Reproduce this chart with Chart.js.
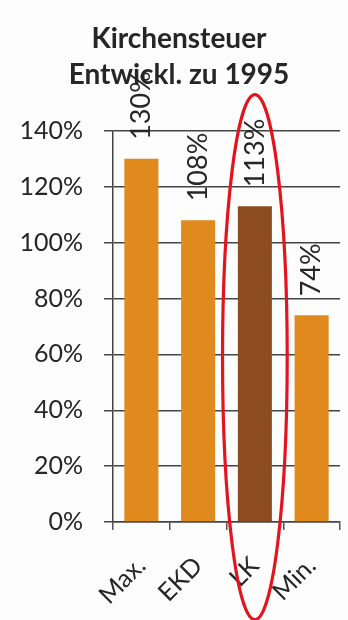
<!DOCTYPE html>
<html>
<head>
<meta charset="utf-8">
<script src="https://cdn.jsdelivr.net/npm/chart.js@4/dist/chart.umd.min.js"></script>
<style>
  html, body { margin: 0; padding: 0; background: #fdfdfd; }
  #wrap { width: 348px; height: 620px; position: relative; }
</style>
</head>
<body>
<div id="wrap"><canvas id="c"></canvas></div>
<script>
// Church tax development relative to 1995
const categories = ['Max.', 'EKD', 'LK', 'Min.'];
const values = [130, 108, 113, 74];
const barColors = ['#E0891C', '#E0891C', '#8D4C20', '#E0891C'];
const titleLines = ['Kirchensteuer', 'Entwickl. zu 1995'];
const yMin = 0, yMax = 140, yStep = 20;
const highlightIndex = 2;            // LK is circled
const highlightRange = [153, -35];   // vertical extent of the ring, in axis units

const FONT = 'Lato, "Open Sans", sans-serif';
const INK = '#262626';

// rotated value labels above each bar
const valueLabels = {
  id: 'valueLabels',
  afterDatasetsDraw(chart) {
    const ctx = chart.ctx;
    const meta = chart.getDatasetMeta(0);
    ctx.save();
    ctx.fillStyle = INK;
    ctx.font = '27px ' + FONT;
    ctx.textAlign = 'left';
    ctx.textBaseline = 'middle';
    meta.data.forEach((bar, i) => {
      ctx.save();
      ctx.translate(bar.x, bar.y - 19);
      ctx.rotate(-Math.PI / 2);
      ctx.fillText(values[i] + '%', 0, 0);
      ctx.restore();
    });
    ctx.restore();
  }
};

// red hand-drawn ring around the highlighted column
const ring = {
  id: 'ring',
  afterDraw(chart) {
    const ctx = chart.ctx;
    const xs = chart.scales.x, ys = chart.scales.y;
    const cx = xs.getPixelForValue(highlightIndex);
    const top = ys.getPixelForValue(highlightRange[0]);
    const bottom = ys.getPixelForValue(highlightRange[1]);
    const rx = xs.width / categories.length * 0.57;
    ctx.save();
    ctx.strokeStyle = '#E2141C';
    ctx.lineWidth = 3.2;
    ctx.beginPath();
    ctx.ellipse(cx, (top + bottom) / 2, rx, (bottom - top) / 2, 0, 0, Math.PI * 2);
    ctx.stroke();
    ctx.restore();
  }
};

new Chart(document.getElementById('c'), {
  type: 'bar',
  data: {
    labels: categories,
    datasets: [{
      data: values,
      backgroundColor: barColors,
      borderWidth: 0,
      barPercentage: 0.6,
      categoryPercentage: 1.0
    }]
  },
  options: {
    responsive: true,
    maintainAspectRatio: false,
    animation: false,
    layout: { padding: { left: 18, right: 8, top: 0, bottom: 0 } },
    plugins: {
      legend: { display: false },
      tooltip: { enabled: false },
      title: {
        display: true,
        text: titleLines,
        color: INK,
        font: { family: FONT, size: 28, weight: 'bold', lineHeight: 1.32 },
        padding: { top: 20, bottom: 37 }
      }
    },
    scales: {
      x: {
        afterFit(scale) {
          scale.paddingLeft = 0;
          scale.paddingRight = 0;
          scale.height = 98;
        },
        grid: {
          drawOnChartArea: false,
          drawTicks: true,
          tickLength: 8,
          color: '#555',
          lineWidth: 1.5,
          offset: true
        },
        border: { display: true, color: '#444', width: 1.5 },
        ticks: {
          color: INK,
          font: { family: FONT, size: 25 },
          minRotation: 45,
          maxRotation: 45,
          padding: 21
        }
      },
      y: {
        min: yMin,
        max: yMax,
        afterFit(scale) { scale.width = 95; },
        grid: {
          color: '#444',
          lineWidth: 1.5,
          tickLength: 9,
          drawTicks: true
        },
        border: { display: true, color: '#444', width: 1.5 },
        ticks: {
          stepSize: yStep,
          color: INK,
          font: { family: FONT, size: 25 },
          padding: 21,
          callback: v => v + '%'
        }
      }
    }
  },
  plugins: [valueLabels, ring]
});
</script>
</body>
</html>
